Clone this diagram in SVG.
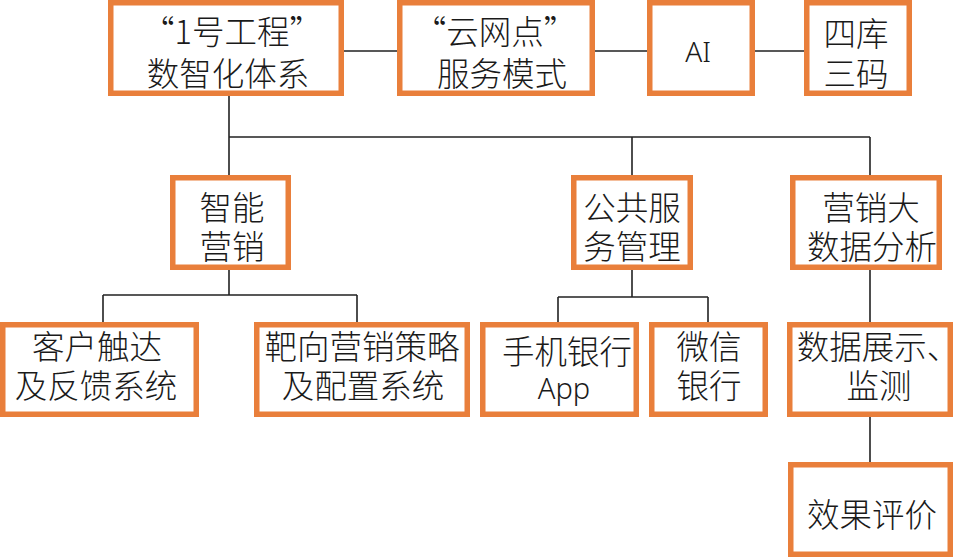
<svg xmlns="http://www.w3.org/2000/svg" width="954" height="557" viewBox="0 0 954 557">
<style>
.box{fill:#fff;stroke:#E97F3B;stroke-width:5.5}
.t{font-family:"Noto Sans CJK SC","Liberation Sans",sans-serif;font-size:32.5px;fill:#1a1a1a;text-anchor:middle;font-weight:300}
.c{fill:none;stroke:#222;stroke-width:1.6}
</style>
<rect width="954" height="557" fill="#fff"/>
<g id="connectors">
<path class="c" d="M344,51H397M595,51H647M755,51H804"/>
<path class="c" d="M229,96V175M229,137H870M632,137V175M870,137V175"/>
<path class="c" d="M229,270V295M103,295H357M103,295V322M357,295V322"/>
<path class="c" d="M632,270V297M558,297H708M558,297V322M708,297V322"/>
<path class="c" d="M870,270V322M870,417V462"/>
</g>
<g id="n1"><rect class="box" x="110.75" y="2.75" width="230.5" height="90.5"/><text class="t" x="232" y="44">“1号工程”</text><text class="t" x="228" y="86">数智化体系</text></g>
<g id="n2"><rect class="box" x="399.75" y="2.75" width="192.5" height="90.5"/><text class="t" x="495" y="44">“云网点”</text><text class="t" x="502" y="86">服务模式</text></g>
<g id="n3"><rect class="box" x="649.75" y="2.75" width="102.5" height="90.5"/><text class="t" x="698" y="62" style="font-family:'Noto Sans','Liberation Sans',sans-serif;font-size:28px">AI</text></g>
<g id="n4"><rect class="box" x="806.75" y="2.75" width="102.5" height="90.5"/><text class="t" x="856" y="46">四库</text><text class="t" x="856" y="86">三码</text></g>
<g id="n5"><rect class="box" x="172.75" y="177.75" width="115.5" height="89.5"/><text class="t" x="232" y="220">智能</text><text class="t" x="232" y="259">营销</text></g>
<g id="n6"><rect class="box" x="573.75" y="177.75" width="116.5" height="89.5"/><text class="t" x="632" y="220">公共服</text><text class="t" x="632" y="259">务管理</text></g>
<g id="n7"><rect class="box" x="792.75" y="177.75" width="146.5" height="89.5"/><text class="t" x="871" y="220">营销大</text><text class="t" x="872" y="259">数据分析</text></g>
<g id="n8"><rect class="box" x="2.75" y="324.75" width="193.5" height="89.5"/><text class="t" x="97" y="359">客户触达</text><text class="t" x="96" y="398">及反馈系统</text></g>
<g id="n9"><rect class="box" x="256.75" y="324.75" width="210.5" height="89.5"/><text class="t" x="362" y="359">靶向营销策略</text><text class="t" x="363" y="398">及配置系统</text></g>
<g id="n10"><rect class="box" x="482.75" y="324.75" width="153.5" height="89.5"/><text class="t" x="567" y="364">手机银行</text><text class="t" x="564" y="399" style="font-family:'Noto Sans','Liberation Sans',sans-serif;font-size:29px">App</text></g>
<g id="n11"><rect class="box" x="651.75" y="324.75" width="113.5" height="89.5"/><text class="t" x="709" y="359">微信</text><text class="t" x="709" y="398">银行</text></g>
<g id="n12"><rect class="box" x="789.75" y="324.75" width="160.5" height="89.5"/><text class="t" x="878" y="359">数据展示、</text><text class="t" x="879" y="398">监测</text></g>
<g id="n13"><rect class="box" x="790.75" y="464.75" width="159.5" height="89.5"/><text class="t" x="872" y="527">效果评价</text></g>
</svg>
